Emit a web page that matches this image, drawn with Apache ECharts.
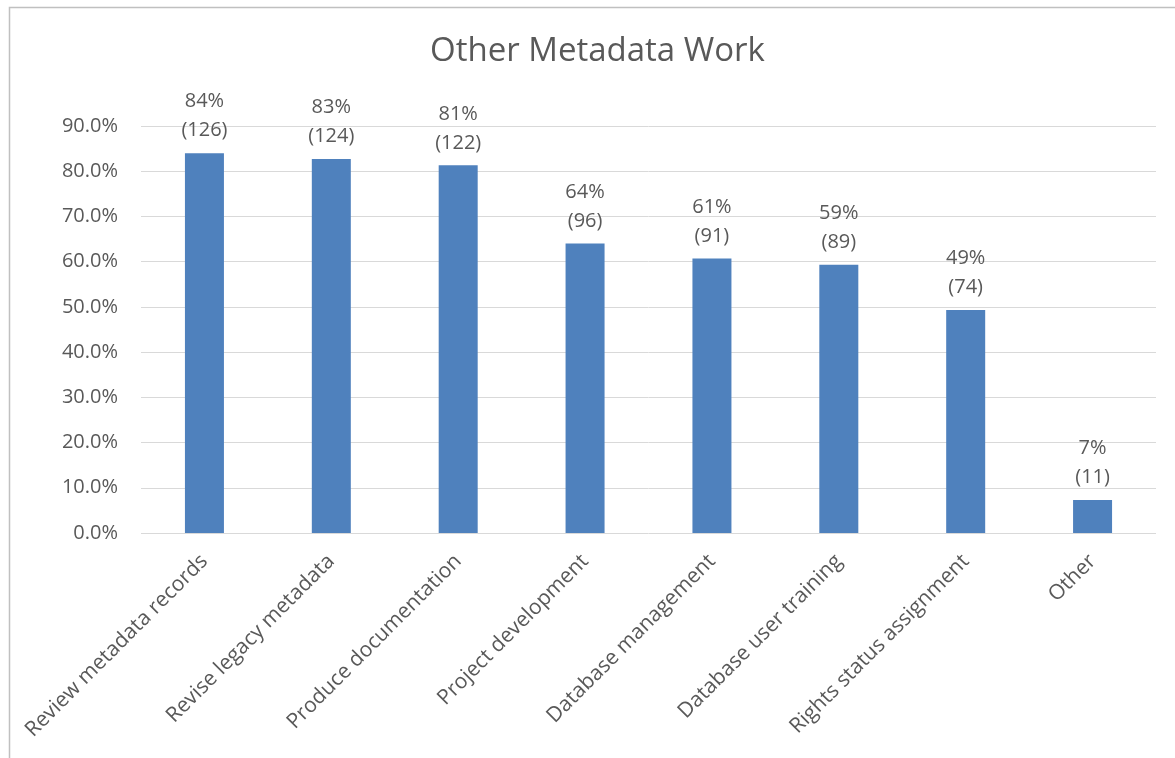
<!DOCTYPE html>
<html>
<head>
<meta charset="utf-8">
<script src="https://cdn.jsdelivr.net/npm/echarts@6/dist/echarts.min.js"></script>
<style>
    body {
        margin: 0;
        background: #fff;
    }

    #chart {
        width: 1175px;
        height: 758px;
    }
</style>
</head>
<body>
<div id="chart"></div>
<script>
// data
const categories = ['Review metadata records', 'Revise legacy metadata', 'Produce documentation',
    'Project development', 'Database management', 'Database user training',
    'Rights status assignment', 'Other']
const percents = [84.0, 82.7, 81.3, 64.0, 60.7, 59.3, 49.3, 7.3]
const labelPercents = [84, 83, 81, 64, 61, 59, 49, 7]
const counts = [126, 124, 122, 96, 91, 89, 74, 11]

const textColor = '#595959'
const font = 'Open Sans'

const chart = echarts.init(document.getElementById('chart'))
chart.setOption({
    animation: false,
    title: {
        text: 'Other Metadata Work',
        left: 425,
        top: 30,
        textStyle: {
            fontFamily: font,
            fontSize: 33,
            fontWeight: 'normal',
            color: textColor
        }
    },
    grid: {
        left: 141,
        right: 19,
        top: 126,
        bottom: 225
    },
    xAxis: {
        type: 'category',
        data: categories,
        axisLine: {show: false},
        axisTick: {show: false},
        axisLabel: {
            rotate: 45,
            interval: 0,
            margin: 25,
            fontFamily: font,
            fontSize: 21,
            color: textColor
        }
    },
    yAxis: {
        type: 'value',
        min: 0,
        max: 90,
        interval: 10,
        axisLine: {show: false},
        axisTick: {show: false},
        splitLine: {lineStyle: {color: '#d9d9d9', width: 1}},
        axisLabel: {
            margin: 23,
            fontFamily: font,
            fontSize: 20,
            color: textColor,
            formatter: v => v.toFixed(1) + '%'
        }
    },
    series: [{
        type: 'bar',
        data: percents,
        barWidth: 39,
        itemStyle: {color: '#4f81bd'},
        label: {
            show: true,
            position: 'top',
            distance: 8,
            fontFamily: font,
            fontSize: 20,
            lineHeight: 29,
            color: textColor,
            formatter: p => labelPercents[p.dataIndex] + '%\n(' + counts[p.dataIndex] + ')'
        }
    }],
    graphic: [{
        type: 'rect',
        shape: {x: 9.5, y: 7.5, width: 1300, height: 900},
        style: {fill: null, stroke: '#c0c0c0', lineWidth: 1.5},
        silent: true
    }]
})
</script>
</body>
</html>
